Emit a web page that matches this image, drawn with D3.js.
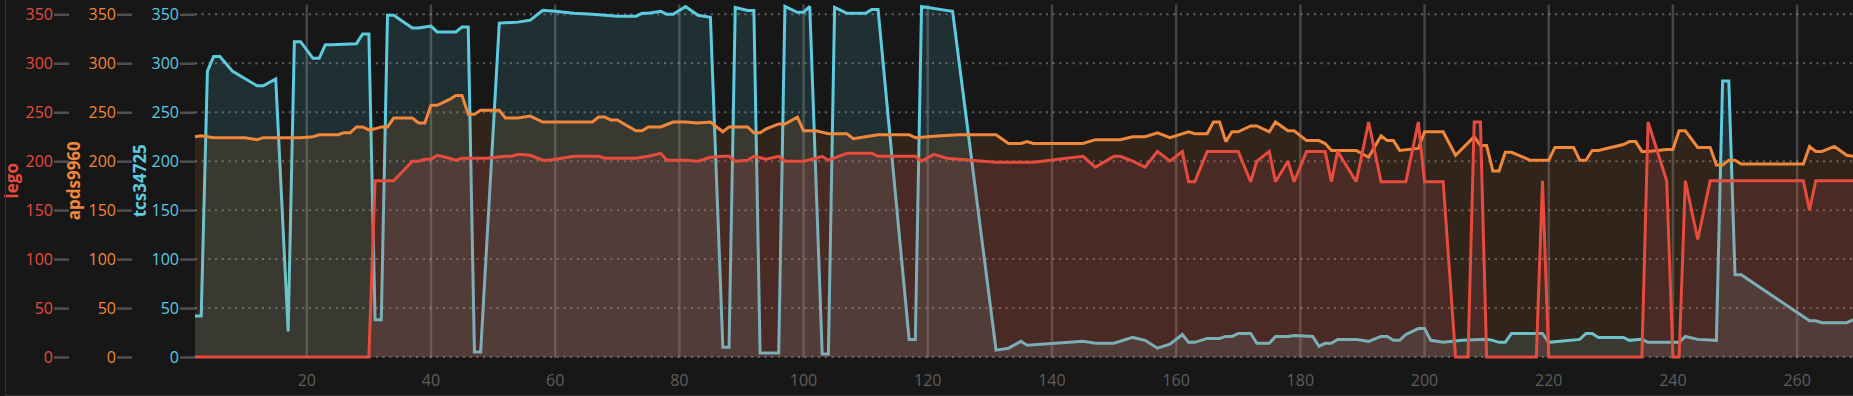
<!DOCTYPE html>
<html>
<head>
<meta charset="utf-8">
<script src="https://cdn.jsdelivr.net/npm/d3@7"></script>
<style>
	body { margin: 0; background: #171717; }
	svg { display: block; font-family: "Open Sans", sans-serif; }
</style>
</head>
<body>
<div id="container"></div>
<script>
// sensor readings, x = sample index
const tcsX = [2, 3, 4, 5, 6, 8, 12, 13, 15, 17, 18, 19, 21, 22, 23, 24, 28, 29, 30, 31, 32, 33, 34, 37, 38, 39, 40, 41, 44, 45, 46, 47, 48, 51, 54, 56, 58, 60, 63, 66, 70, 73, 74, 75, 77, 78, 79, 81, 83, 85, 87, 88, 89, 91, 92, 93, 96, 97, 99, 100, 101, 103, 104, 105, 107, 110, 111, 112, 117, 118, 119, 123, 124, 131, 133, 135, 136, 145, 147, 150, 153, 155, 157, 159, 161, 162, 163, 165, 167, 168, 169, 170, 172, 173, 175, 176, 178, 179, 182, 183, 184, 185, 186, 189, 191, 193, 194, 195, 196, 197, 199, 200, 201, 203, 206, 210, 211, 212, 213, 214, 219, 220, 225, 226, 227, 228, 232, 233, 235, 236, 241, 242, 244, 247, 248, 249, 250, 251, 262, 263, 264, 268, 269];
const tcsV = [42, 42, 292, 307, 307, 292, 277, 277, 284, 26, 322, 322, 305, 305, 319, 319, 320, 330, 330, 38, 38, 349, 349, 336, 336, 337, 338, 332, 332, 337, 337, 5, 5, 341, 342, 344, 354, 353, 351, 350, 348, 348, 351, 351, 353, 350, 350, 358, 349, 347, 10, 10, 357, 354, 354, 4, 4, 358, 352, 352, 358, 3, 3, 357, 351, 351, 355, 355, 18, 18, 358, 354, 353, 7, 9, 16, 12, 16, 14, 14, 20, 17, 9, 13, 23, 15, 15, 19, 19, 21, 21, 24, 24, 14, 14, 21, 21, 22, 21, 11, 14, 14, 18, 18, 16, 21, 21, 17, 17, 23, 29, 29, 17, 15, 17, 18, 17, 15, 15, 24, 24, 15, 18, 24, 24, 20, 20, 17, 18, 15, 15, 21, 18, 17, 282, 282, 84, 84, 37, 37, 35, 35, 38];

const apdsX = [2, 3, 5, 10, 12, 13, 19, 21, 22, 25, 26, 27, 28, 29, 30, 31, 32, 33, 34, 37, 38, 39, 40, 41, 43, 44, 45, 46, 47, 48, 51, 52, 54, 56, 58, 66, 67, 68, 69, 70, 73, 74, 75, 77, 79, 81, 83, 85, 87, 88, 91, 92, 93, 94, 96, 97, 99, 100, 102, 104, 107, 108, 110, 112, 117, 118, 122, 125, 131, 133, 135, 136, 137, 145, 147, 151, 153, 155, 157, 159, 162, 163, 165, 166, 167, 168, 169, 170, 172, 173, 175, 176, 178, 179, 181, 183, 184, 185, 189, 191, 193, 194, 195, 196, 199, 200, 203, 205, 208, 209, 210, 211, 212, 213, 214, 217, 220, 221, 224, 225, 226, 227, 228, 232, 233, 234, 235, 236, 239, 240, 241, 242, 244, 246, 247, 248, 249, 250, 251, 261, 262, 263, 264, 266, 268, 269];
const apdsV = [225, 226, 224, 224, 222, 224, 224, 225, 227, 227, 229, 229, 235, 235, 232, 233, 235, 235, 244, 244, 239, 239, 257, 257, 263, 267, 267, 248, 248, 252, 252, 244, 244, 246, 240, 240, 245, 245, 242, 242, 231, 231, 235, 235, 240, 240, 239, 240, 230, 235, 235, 229, 229, 233, 238, 238, 245, 231, 231, 228, 228, 223, 225, 227, 227, 224, 226, 227, 227, 218, 218, 220, 218, 218, 222, 222, 225, 225, 229, 224, 230, 228, 228, 240, 240, 220, 230, 230, 236, 236, 230, 240, 231, 231, 221, 221, 218, 211, 211, 204, 226, 221, 221, 211, 213, 230, 230, 206, 225, 216, 216, 190, 190, 209, 209, 201, 201, 214, 214, 201, 201, 211, 211, 217, 220, 220, 210, 210, 212, 212, 231, 231, 214, 214, 196, 196, 201, 201, 197, 197, 215, 210, 210, 215, 206, 205];

const legoX = [2, 30, 31, 34, 37, 38, 39, 40, 41, 43, 44, 45, 49, 52, 53, 54, 56, 58, 59, 63, 66, 67, 68, 73, 75, 77, 78, 81, 83, 85, 87, 88, 89, 91, 92, 94, 96, 97, 100, 102, 103, 104, 107, 111, 112, 118, 119, 121, 123, 125, 131, 137, 145, 147, 150, 151, 153, 155, 157, 159, 161, 162, 163, 165, 170, 172, 173, 175, 176, 178, 179, 181, 184, 185, 186, 189, 191, 193, 197, 199, 200, 203, 205, 207, 208, 209, 210, 218, 219, 220, 235, 236, 239, 240, 241, 242, 244, 246, 261, 262, 263, 269];
const legoV = [0, 0, 180, 180, 200, 200, 202, 202, 206, 203, 201, 203, 203, 205, 205, 207, 206, 201, 201, 205, 205, 205, 203, 203, 205, 208, 201, 201, 200, 204, 205, 205, 200, 201, 205, 202, 205, 200, 200, 203, 205, 201, 208, 208, 205, 205, 200, 207, 203, 202, 199, 199, 205, 194, 205, 205, 200, 194, 210, 200, 210, 179, 179, 210, 210, 179, 200, 210, 179, 200, 179, 210, 210, 179, 210, 179, 240, 179, 179, 240, 179, 179, 0, 0, 240, 240, 0, 0, 180, 0, 0, 240, 180, 0, 0, 180, 120, 180, 180, 150, 180, 180];

const yTicks = [0, 50, 100, 150, 200, 250, 300, 350];
const xTicks = [20, 40, 60, 80, 100, 120, 140, 160, 180, 200, 220, 240, 260];

const W = 1853;
const H = 396;

const svg = d3.select('#container').append('svg')
	.attr('width', W)
	.attr('height', H);

svg.append('rect')
	.attr('width', W)
	.attr('height', H)
	.attr('fill', '#171717');

const x = d3.scaleLinear().domain([2, 269]).range([195, 1853]);
const y = d3.scaleLinear().domain([0, 360]).range([357, 4.5]);

// grid
svg.append('g').selectAll('line')
	.data(xTicks).enter()
	.append('line')
	.attr('x1', d => x(d))
	.attr('x2', d => x(d))
	.attr('y1', y(360))
	.attr('y2', y(0) + 1)
	.attr('stroke', 'rgba(255,255,255,0.2)')
	.attr('stroke-width', 2.5);

svg.append('g').selectAll('line')
	.data(yTicks).enter()
	.append('line')
	.attr('x1', x(2))
	.attr('x2', W)
	.attr('y1', d => y(d))
	.attr('y2', d => y(d))
	.attr('stroke', 'rgba(255,255,255,0.32)')
	.attr('stroke-width', 2)
	.attr('stroke-dasharray', '2,4.7');

const series = [
	{ name: 'tcs34725', xs: tcsX, vs: tcsV, color: '#5ccbe0', fill: 'rgba(96,205,226,0.13)', axisX: 195, titleX: 146 },
	{ name: 'apds9960', xs: apdsX, vs: apdsV, color: '#f0873a', fill: 'rgba(240,135,50,0.12)', axisX: 132, titleX: 80 },
	{ name: 'lego', xs: legoX, vs: legoV, color: '#e64b3d', fill: 'rgba(200,76,88,0.17)', axisX: 69, titleX: 18 }
];

const area = d3.area()
	.x(d => x(d[0]))
	.y0(y(0))
	.y1(d => y(d[1]));

const line = d3.line()
	.x(d => x(d[0]))
	.y(d => y(d[1]));

series.forEach(s => {
	const points = s.xs.map((d, i) => [d, s.vs[i]]);

	svg.append('path')
		.datum(points)
		.attr('d', area)
		.attr('fill', s.fill);

	svg.append('path')
		.datum(points)
		.attr('d', line)
		.attr('fill', 'none')
		.attr('stroke', s.color)
		.attr('stroke-width', 3)
		.attr('stroke-linejoin', 'miter')
		.attr('stroke-miterlimit', 2);
});

// y axes, one per sensor, same scale
series.forEach(s => {
	const g = svg.append('g')
		.attr('transform', `translate(${s.axisX},0)`)
		.call(d3.axisLeft(y).tickValues(yTicks).tickSize(15).tickPadding(1));

	g.select('.domain').remove();
	g.selectAll('.tick line')
		.attr('stroke', '#505050')
		.attr('stroke-width', 2.5);
	g.selectAll('.tick text')
		.attr('fill', s.color)
		.attr('font-size', 16)
		.attr('font-family', '"Open Sans", sans-serif');

	svg.append('text')
		.text(s.name)
		.attr('transform', `translate(${s.titleX},${(y(0) + y(360)) / 2}) rotate(-90)`)
		.attr('text-anchor', 'middle')
		.attr('font-size', 17)
		.attr('font-weight', 700)
		.attr('fill', s.color);
});

// x labels
svg.append('g').selectAll('text')
	.data(xTicks).enter()
	.append('text')
	.attr('x', d => x(d))
	.attr('y', 386)
	.attr('text-anchor', 'middle')
	.attr('font-size', 16)
	.attr('fill', '#5e5e5e')
	.text(d => d);

// panel frame
svg.append('line')
	.attr('x1', 5.5).attr('x2', 5.5)
	.attr('y1', 0).attr('y2', H)
	.attr('stroke', '#333');
svg.append('line')
	.attr('x1', 5).attr('x2', W)
	.attr('y1', 395.5).attr('y2', 395.5)
	.attr('stroke', '#333');
</script>
</body>
</html>
